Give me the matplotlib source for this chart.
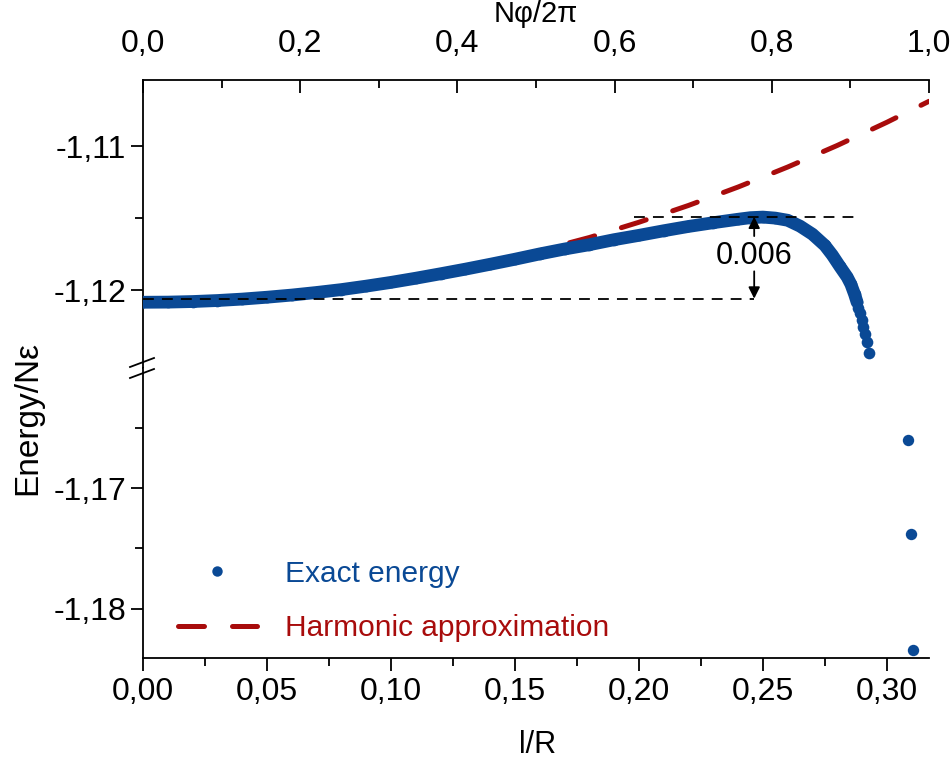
import numpy as np
import matplotlib
matplotlib.use("Agg")
import matplotlib.pyplot as plt
from matplotlib.lines import Line2D

plt.rcParams['font.family'] = ['Liberation Sans', 'DejaVu Sans']

# exact energy (upper panel, dense band + tail)
exact_x = [0.000, 0.010, 0.020, 0.030, 0.040, 0.050, 0.060, 0.070, 0.080, 0.090,
           0.100, 0.110, 0.120, 0.130, 0.140, 0.150, 0.160, 0.170, 0.180, 0.190,
           0.200, 0.210, 0.220, 0.230, 0.240, 0.245, 0.250, 0.255, 0.260, 0.265,
           0.270, 0.275, 0.278, 0.281, 0.284, 0.2855, 0.2870, 0.2880,
           0.2884, 0.2892, 0.2900, 0.2905, 0.2912, 0.2919, 0.2929]
exact_y = [-1.12085, -1.12084, -1.12080, -1.12073, -1.12063, -1.12050, -1.12035, -1.12017, -1.11997, -1.11973,
           -1.11947, -1.11918, -1.11887, -1.11855, -1.11821, -1.11786, -1.11749, -1.11715, -1.11685, -1.11650,
           -1.11620, -1.11588, -1.11558, -1.11532, -1.11508, -1.11497, -1.11493, -1.11500, -1.11515, -1.11556,
           -1.11612, -1.11690, -1.11757, -1.11835, -1.11910, -1.11960, -1.12030, -1.12085,
           -1.12125, -1.12160, -1.12208, -1.12255, -1.12306, -1.12363, -1.12440]
# exact energy points that fall in the lower panel
tail_x = [0.3086, 0.3098, 0.3106]
tail_y = [-1.16597, -1.17378, -1.18345]

# harmonic approximation
harm_x = [0.00, 0.03, 0.06, 0.09, 0.12, 0.15, 0.18, 0.20, 0.22, 0.24, 0.26, 0.28, 0.30, 0.317]
harm_y = [-1.12085, -1.12072, -1.12035, -1.11972, -1.11885, -1.11772, -1.11635, -1.11529,
          -1.11412, -1.11284, -1.11145, -1.10995, -1.10834, -1.10688]

# 0.006 gap annotation
e_low = -1.1206
e_high = -1.1149
x_gap = 0.2465

XMAX = 0.317
bottom_ticks = [0.00, 0.05, 0.10, 0.15, 0.20, 0.25, 0.30]
bottom_labels = ['0,00', '0,05', '0,10', '0,15', '0,20', '0,25', '0,30']
top_ticks = [0.0, 0.2, 0.4, 0.6, 0.8, 1.0]
top_labels = ['0,0', '0,2', '0,4', '0,6', '0,8', '1,0']
up_ticks = [-1.12, -1.11]
up_labels = ['-1,12', '-1,11']
low_ticks = [-1.18, -1.17]
low_labels = ['-1,18', '-1,17']

BLUE = '#0a4995'
RED = '#a80c0c'
TICK_FS = 23

W, H = 953, 767
fig = plt.figure(figsize=(W / 100, H / 100), dpi=100)
L, R = 143, 929
ax_u = fig.add_axes([L / W, 1 - 368 / H, (R - L) / W, (368 - 80) / H])
ax_l = fig.add_axes([L / W, 1 - 658 / H, (R - L) / W, (658 - 368) / H])

for ax in (ax_u, ax_l):
    ax.set_xlim(0, XMAX)
    ax.spines['right'].set_visible(False)
    ax.tick_params(axis='y', direction='out', length=9, width=1.3, labelsize=TICK_FS, pad=3)
    ax.tick_params(axis='y', which='minor', direction='out', length=6, width=1.3)
    for s in ax.spines.values():
        s.set_linewidth(1.3)

ax_u.set_ylim(-1.12542, -1.1054)
ax_l.set_ylim(-1.1841, -1.16)
ax_u.spines['bottom'].set_visible(False)
ax_u.spines['top'].set_visible(False)
ax_l.spines['top'].set_visible(False)

ax_u.set_xticks([])
ax_u.set_yticks(up_ticks)
ax_u.set_yticklabels(up_labels)
ax_u.set_yticks([-1.115], minor=True)

ax_l.set_yticks(low_ticks)
ax_l.set_yticklabels(low_labels)
ax_l.set_yticks([-1.175, -1.165], minor=True)
ax_l.set_xticks(bottom_ticks)
ax_l.set_xticklabels(bottom_labels)
ax_l.set_xticks(np.arange(0.025, 0.32, 0.05), minor=True)
ax_l.tick_params(axis='x', direction='out', length=9, width=1.3, labelsize=TICK_FS, pad=5)
ax_l.tick_params(axis='x', which='minor', direction='out', length=6, width=1.3)

top = ax_u.secondary_xaxis('top', functions=(lambda x: x / XMAX, lambda t: t * XMAX))
top.set_xticks(top_ticks)
top.set_xticklabels(top_labels)
top.set_xticks([0.1, 0.3, 0.5, 0.7, 0.9], minor=True)
top.tick_params(axis='x', direction='in', length=9, width=1.3, labelsize=TICK_FS, pad=15)
top.tick_params(axis='x', which='minor', direction='in', length=6, width=1.3)
top.spines['top'].set_linewidth(1.3)

# harmonic approximation under the exact band
ax_u.plot(harm_x, harm_y, color=RED, lw=3.6, dashes=(5.2, 5.6),
          dash_capstyle='round', zorder=2)

ex = np.array(exact_x)
ey = np.array(exact_y)
dense = ex <= 0.288
ax_u.plot(ex[dense], ey[dense], color=BLUE, lw=9.2, solid_capstyle='round', zorder=3)
ax_u.plot(ex, ey, 'o', color=BLUE, ms=8.4, mec='none', zorder=3)
ax_l.plot(tail_x, tail_y, 'o', color=BLUE, ms=8.2, mec='none', clip_on=False, zorder=3)

# dashed reference levels and 0.006 arrows
ax_u.plot([0, x_gap], [e_low, e_low], color='black', lw=1.3, dashes=(6, 4.5), zorder=4)
ax_u.plot([0.198, 0.287], [e_high, e_high], color='black', lw=1.3, dashes=(6, 4.5), zorder=4)
ax_u.text(x_gap, -1.11764, '0.006', ha='center', va='center', fontsize=22)
ax_u.annotate('', xy=(x_gap, e_high), xytext=(x_gap, -1.11625),
              arrowprops=dict(arrowstyle='-|>', color='black', lw=1.3,
                              mutation_scale=17, shrinkA=0, shrinkB=0), zorder=5)
ax_u.annotate('', xy=(x_gap, e_low), xytext=(x_gap, -1.1187),
              arrowprops=dict(arrowstyle='-|>', color='black', lw=1.3,
                              mutation_scale=17, shrinkA=0, shrinkB=0), zorder=5)

# legend
handles = [Line2D([], [], ls='none', marker='o', color=BLUE, ms=7.5, mec='none'),
           Line2D([], [], color=RED, lw=3.6, dashes=(5.2, 5.6), dash_capstyle='round')]
leg = ax_l.legend(handles, ['Exact energy', 'Harmonic approximation'], loc='center left',
                  bbox_to_anchor=(0.044, 0.197), frameon=False, fontsize=21.5,
                  handlelength=2.65, handletextpad=0.95, labelspacing=0.88,
                  borderpad=0, borderaxespad=0)
leg.get_texts()[0].set_color(BLUE)
leg.get_texts()[1].set_color(RED)

# axis break mark on the left spine
for y0 in (362, 373):
    fig.add_artist(Line2D([130 / W, 154 / W], [1 - (y0 + 5) / H, 1 - (y0 - 4) / H],
                          color='black', lw=1.3))

fig.text(28 / W, 1 - 418 / H, 'Energy/Nε', rotation=90, ha='center', va='center', fontsize=24)
fig.text(538 / W, 1 - 745 / H, 'l/R', ha='center', va='center', fontsize=22)
fig.text(536 / W, 1 - 14 / H, 'Nφ/2π', ha='center', va='center', fontsize=21)

fig.savefig('out.png', dpi=100)
